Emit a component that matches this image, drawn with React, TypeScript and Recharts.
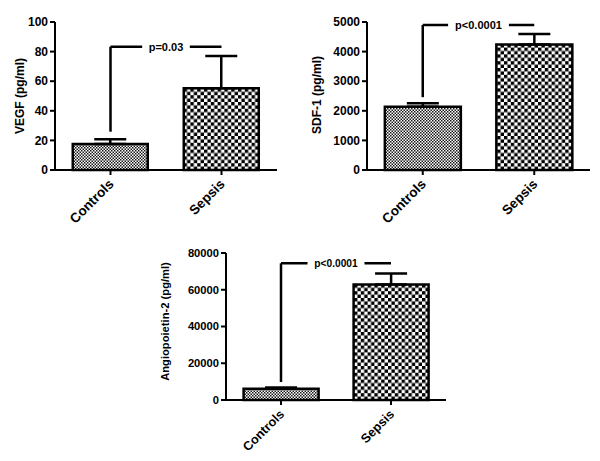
import { Bar, BarChart, ErrorBar, ReferenceLine, XAxis, YAxis } from "recharts";

// group names on the x axis
const groups = ["Controls", "Sepsis"];

// VEGF panel
const vegfMean = [17.6, 55.2];
const vegfSem = [3.2, 21.8];
const vegfTicks = [0, 20, 40, 60, 80, 100];
const vegfBracket = [25.9, 83.3];

// SDF-1 panel
const sdfMean = [2140, 4240];
const sdfSem = [115, 355];
const sdfTicks = [0, 1000, 2000, 3000, 4000, 5000];
const sdfBracket = [2460, 4900];

// Angiopoietin-2 panel
const angMean = [6100, 62800];
const angSem = [700, 6000];
const angTicks = [0, 20000, 40000, 60000, 80000];
const angBracket = [9800, 74400];

const FONT = "'Liberation Sans', Arial, Helvetica, sans-serif";
const fills = ["url(#fineChecks)", "url(#coarseChecks)"];

function buildRows(means: number[], sems: number[]) {
  return groups.map((g, i) => ({ group: g, mean: means[i], err: [0, sems[i]], fill: fills[i] }));
}

function yLabel(text: string, dx: number, dy: number, fontSize: number) {
  return (props: any) => {
    const vb = props.viewBox || { x: 0, y: 0, width: 0, height: 0 };
    const cx = vb.x + dx;
    const cy = vb.y + vb.height / 2 + dy;
    return (
      <text
        x={cx}
        y={cy}
        transform={`rotate(-90 ${cx} ${cy})`}
        textAnchor="middle"
        dominantBaseline="central"
        fontFamily={FONT}
        fontWeight="bold"
        fontSize={fontSize}
        fill="#000"
      >
        {text}
      </text>
    );
  };
}

function pLabel(text: string, fontSize: number) {
  return (props: any) => {
    const vb = props.viewBox || { x: 0, y: 0, width: 0, height: 0 };
    const cx = vb.x + vb.width / 2;
    const cy = vb.y;
    const w = text.length * fontSize * 0.6 + 8;
    return (
      <g>
        <rect x={cx - w / 2} y={cy - 4} width={w} height={8} fill="#fff" />
        <text
          x={cx}
          y={cy}
          textAnchor="middle"
          dominantBaseline="central"
          fontFamily={FONT}
          fontWeight="bold"
          fontSize={fontSize}
          fill="#000"
        >
          {text}
        </text>
      </g>
    );
  };
}

function slantTick(fontSize: number) {
  return (props: any) => {
    const { x, y, payload } = props;
    return (
      <g transform={`translate(${x + 4},${y + 8}) rotate(-45)`}>
        <text
          x={0}
          y={0}
          textAnchor="end"
          fontFamily={FONT}
          fontWeight="bold"
          fontSize={fontSize}
          fill="#000"
        >
          {payload.value}
        </text>
      </g>
    );
  };
}

type PanelProps = {
  means: number[];
  sems: number[];
  ticks: number[];
  bracket: number[];
  pText: string;
  title: string;
  left: number;
  top: number;
  width: number;
  height: number;
  marginTop: number;
  marginRight: number;
  axisWidth: number;
  axisHeight: number;
  labelDx: number;
  labelDy: number;
  fontSize: number;
};

function Panel(p: PanelProps) {
  const rows = buildRows(p.means, p.sems);
  const tickStyle = { fill: "#000", fontFamily: FONT, fontWeight: "bold", fontSize: p.fontSize };
  return (
    <div style={{ position: "absolute", left: p.left, top: p.top }}>
      <BarChart
        width={p.width}
        height={p.height}
        data={rows}
        margin={{ top: p.marginTop, right: p.marginRight, bottom: 0, left: 0 }}
        barCategoryGap="16%"
      >
        <XAxis
          dataKey="group"
          height={p.axisHeight}
          axisLine={{ stroke: "#000", strokeWidth: 2 }}
          tickLine={{ stroke: "#000", strokeWidth: 2 }}
          tickSize={5}
          tick={slantTick(p.fontSize + 1.5)}
          interval={0}
        />
        <YAxis
          width={p.axisWidth}
          domain={[p.ticks[0], p.ticks[p.ticks.length - 1]]}
          ticks={p.ticks}
          interval={0}
          axisLine={{ stroke: "#000", strokeWidth: 2 }}
          tickLine={{ stroke: "#000", strokeWidth: 2 }}
          tickSize={5}
          tick={tickStyle}
          label={{ content: yLabel(p.title, p.labelDx, p.labelDy, p.fontSize) }}
        />
        <Bar dataKey="mean" stroke="#000" strokeWidth={2.5} isAnimationActive={false}>
          <ErrorBar dataKey="err" width={16} stroke="#000" strokeWidth={2.5} direction="y" />
        </Bar>
        <ReferenceLine
          segment={[
            { x: groups[0], y: p.bracket[0] },
            { x: groups[0], y: p.bracket[1] },
          ]}
          stroke="#000"
          strokeWidth={2.5}
        />
        <ReferenceLine
          segment={[
            { x: groups[0], y: p.bracket[1] },
            { x: groups[1], y: p.bracket[1] },
          ]}
          stroke="#000"
          strokeWidth={2.5}
          label={{ content: pLabel(p.pText, p.fontSize - 1) }}
        />
      </BarChart>
    </div>
  );
}

export default function App() {
  return (
    <div style={{ position: "absolute", left: 0, top: 0, width: 600, height: 461, background: "#fff" }}>
      <svg width={0} height={0} style={{ position: "absolute" }}>
        <defs>
          <pattern id="fineChecks" patternUnits="userSpaceOnUse" width={3} height={3}>
            <rect width={3} height={3} fill="#fff" />
            <rect width={1.5} height={1.5} fill="#1a1a1a" />
            <rect x={1.5} y={1.5} width={1.5} height={1.5} fill="#1a1a1a" />
          </pattern>
          <pattern id="coarseChecks" patternUnits="userSpaceOnUse" width={6.8} height={6.8}>
            <rect width={6.8} height={6.8} fill="#fff" />
            <rect width={3.4} height={3.4} fill="#000" />
            <rect x={3.4} y={3.4} width={3.4} height={3.4} fill="#000" />
          </pattern>
        </defs>
      </svg>
      <Panel
        means={vegfMean}
        sems={vegfSem}
        ticks={vegfTicks}
        bracket={vegfBracket}
        pText="p=0.03"
        title="VEGF (pg/ml)"
        left={0}
        top={0}
        width={290}
        height={230}
        marginTop={22}
        marginRight={13}
        axisWidth={55}
        axisHeight={60}
        labelDx={20}
        labelDy={0}
        fontSize={12}
      />
      <Panel
        means={sdfMean}
        sems={sdfSem}
        ticks={sdfTicks}
        bracket={sdfBracket}
        pText="p<0.0001"
        title="SDF-1 (pg/ml)"
        left={300}
        top={0}
        width={300}
        height={230}
        marginTop={22}
        marginRight={10}
        axisWidth={67}
        axisHeight={60}
        labelDx={17}
        labelDy={-1}
        fontSize={12}
      />
      <Panel
        means={angMean}
        sems={angSem}
        ticks={angTicks}
        bracket={angBracket}
        pText="p<0.0001"
        title="Angiopoietin-2 (pg/ml)"
        left={150}
        top={230}
        width={300}
        height={231}
        marginTop={23}
        marginRight={4}
        axisWidth={76}
        axisHeight={61}
        labelDx={15}
        labelDy={-5}
        fontSize={11.2}
      />
    </div>
  );
}
